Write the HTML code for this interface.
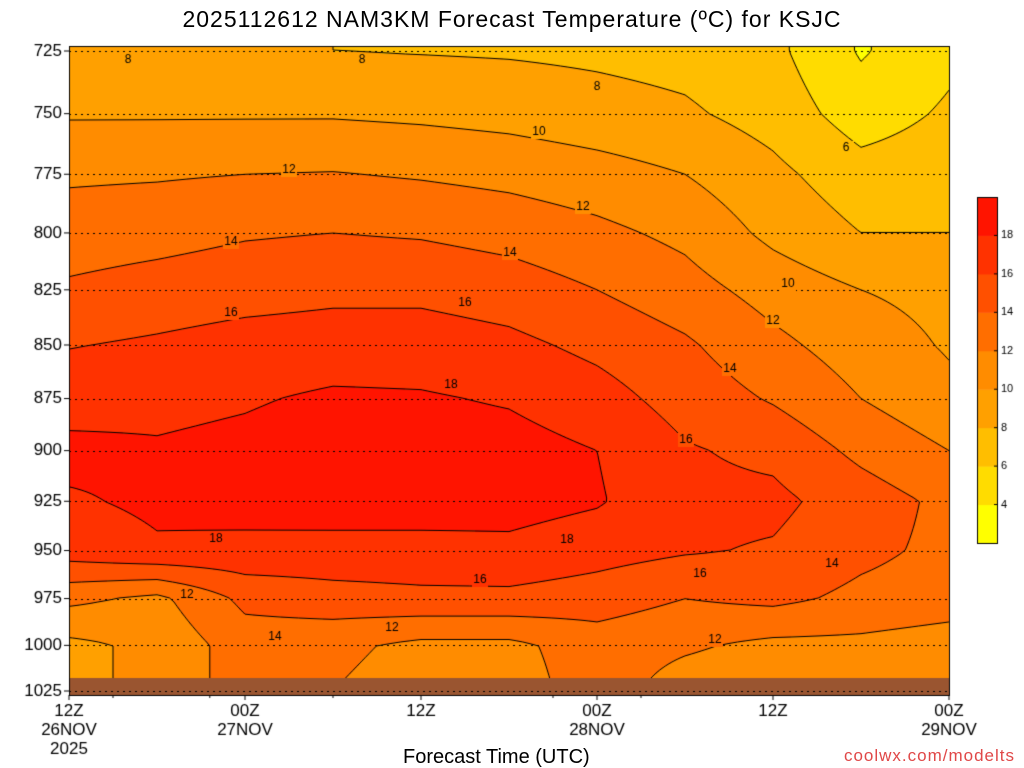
<!DOCTYPE html>
<html><head><meta charset="utf-8"><style>
body{margin:0;background:#fff;font-family:"Liberation Sans","DejaVu Sans",sans-serif}
#wrap{position:relative;width:1024px;height:768px;overflow:hidden}
canvas{position:absolute;left:0;top:0}
.t{position:absolute;white-space:nowrap;color:#000}
</style></head><body>
<div id="wrap">
<canvas id="cv" width="1024" height="768"></canvas>
<div class="t" style="left:0;width:1024px;text-align:center;top:6px;font-size:23px;letter-spacing:1px">2025112612 NAM3KM Forecast Temperature (ºC) for KSJC</div>
<div class="t" style="left:403px;top:746px;font-size:20px">Forecast Time (UTC)</div>
<div class="t" style="right:9px;top:746px;font-size:17px;color:#e04848;letter-spacing:1px">coolwx.com/modelts</div>
</div>
<script>
const levels=[725,750,775,800,825,850,875,900,925,950,975,1000,1025];
const hours=[0,6,12,18,24,30,36,42,48,54,60];
const xTickLabels=[["12Z","26NOV","2025"],["00Z","27NOV"],["12Z"],["00Z","28NOV"],["12Z"],["00Z","29NOV"]];
const xTickHours=[0,12,24,36,48,60];
const cbLabels=[4,6,8,10,12,14,16,18];
const temps=[
[8.2,8.2,8.1,8.0,7.9,7.8,7.6,7.3,6.5,3.8,5.5],
[9.8,9.8,9.8,9.8,9.6,9.3,8.8,8.3,7.2,5.0,6.3],
[11.7,11.8,12.0,12.1,11.8,11.4,10.8,10.0,8.5,6.8,7.2],
[13.0,13.3,13.8,14.0,13.8,13.3,12.5,11.5,9.5,8.0,8.0],
[14.3,14.8,15.2,15.5,15.5,15.0,14.0,12.8,11.2,10.0,9.4],
[15.9,16.3,16.8,17.0,17.0,16.5,15.5,14.3,12.5,11.0,9.8],
[17.2,17.5,17.8,18.3,18.2,17.8,16.8,15.2,13.8,12.0,10.5],
[18.5,18.2,18.5,19.0,19.0,18.8,18.0,16.2,15.5,13.5,12.0],
[17.8,18.3,18.7,19.0,19.0,18.8,18.2,16.5,16.5,15.0,13.5],
[17.0,17.8,17.5,17.3,17.3,17.5,16.8,16.2,15.8,14.5,13.5],
[12.5,11.5,14.5,15.2,15.5,15.5,15.0,14.0,14.5,13.5,13.0],
[9.5,10.5,13.0,12.5,11.5,11.5,13.0,12.3,11.5,11.5,11.0],
[9.5,10.5,13.0,12.0,11.0,11.0,13.0,11.0,10.5,10.5,11.0]];
const binColors=["#ffff00","#ffdc00","#ffbe00","#ffa000","#ff8c00","#ff6e00","#ff5000","#ff3200","#ff1400"];
const X0=69,X1=949,Y0=46,Y1=695;
const xOf=h=>X0+h*(X1-X0)/60;
const yOf=p=>51+(Math.log(p)-Math.log(725))*640/(Math.log(1025)-Math.log(725));
const pOf=y=>Math.exp(Math.log(725)+(y-51)*(Math.log(1025)-Math.log(725))/640);
function tempAt(x,y){
  let h=(x-X0)/(X1-X0)*60;h=Math.max(0,Math.min(60,h));
  let p=Math.max(725,Math.min(1025,pOf(y)));
  let i=Math.min(hours.length-2,Math.floor(h/6)),fi=(h-hours[i])/6;
  let j=0;while(j<levels.length-2&&levels[j+1]<p)j++;
  let fj=(Math.log(p)-Math.log(levels[j]))/(Math.log(levels[j+1])-Math.log(levels[j]));
  fj=Math.max(0,Math.min(1,fj));
  const a=temps[j][i],b=temps[j][i+1],c=temps[j+1][i],d=temps[j+1][i+1];
  return (a*(1-fi)+b*fi)*(1-fj)+(c*(1-fi)+d*fi)*fj;
}
function bin(t){let k=Math.floor((t-2)/2);return Math.max(0,Math.min(8,k));}
const cv=document.getElementById('cv'),g=cv.getContext('2d');
const S=2;
for(let y=Y0;y<Y1;y+=S)for(let x=X0;x<X1;x+=S){g.fillStyle=binColors[bin(tempAt(x+1,y+1))];g.fillRect(x,y,S,S);}
const C=4,nx=Math.ceil((X1-X0)/C),ny=Math.ceil((Y1-Y0)/C);
const G=[];for(let j=0;j<=ny;j++){G.push([]);for(let i=0;i<=nx;i++)G[j].push(tempAt(X0+i*C,Y0+j*C));}
g.strokeStyle="#000";g.lineWidth=1;g.beginPath();
for(let L=4;L<=18;L+=2){
 for(let j=0;j<ny;j++)for(let i=0;i<nx;i++){
  const v=[G[j][i],G[j][i+1],G[j+1][i+1],G[j+1][i]];
  const px=[[0,0],[1,0],[1,1],[0,1]];const pts=[];
  for(let k=0;k<4;k++){const a=v[k],b=v[(k+1)%4];if((a<L)!==(b<L)){const f=(L-a)/(b-a);
    pts.push([X0+(i+px[k][0]+(px[(k+1)%4][0]-px[k][0])*f)*C,Y0+(j+px[k][1]+(px[(k+1)%4][1]-px[k][1])*f)*C]);}}
  for(let k=0;k+1<pts.length;k+=2){g.moveTo(pts[k][0],pts[k][1]);g.lineTo(pts[k+1][0],pts[k+1][1]);}
 }}
g.stroke();
g.fillStyle="#9a5530";g.fillRect(X0,678,X1-X0,Y1-678);
g.setLineDash([2,4]);g.strokeStyle="#000";
levels.forEach(p=>{const y=Math.round(yOf(p))+0.5;g.beginPath();g.moveTo(X0,y);g.lineTo(X1,y);g.stroke();});
g.beginPath();g.moveTo(X0+0.5,Y0);g.lineTo(X0+0.5,Y1);g.stroke();
g.setLineDash([]);g.strokeRect(X0+0.5,Y0+0.5,X1-X0,Y1-Y0);
g.font='17px "Liberation Sans",sans-serif';g.fillStyle="#000";g.textAlign="right";g.textBaseline="middle";
levels.forEach(p=>{const y=yOf(p);g.fillText(p,62,y);g.beginPath();g.moveTo(X0-5,y);g.lineTo(X0,y);g.stroke();});
g.textAlign="center";g.textBaseline="top";
xTickHours.forEach((h,k)=>{const x=xOf(h);g.beginPath();g.moveTo(x,Y1);g.lineTo(x,Y1+5);g.stroke();
 xTickLabels[k].forEach((s,r)=>g.fillText(s,x,703+r*19));});
g.font='12px "Liberation Sans",sans-serif';g.textBaseline="middle";
[[128,60,8],[362,60,8],[597,87,8],[539,132,10],[846,148,6],[289,170,12],[583,207,12],[231,242,14],[510,253,14],[788,284,10],[773,321,12],[231,313,16],[465,303,16],[730,369,14],[451,385,18],[686,440,16],[216,539,18],[567,540,18],[480,580,16],[700,574,16],[832,564,14],[187,595,12],[275,637,14],[392,628,12],[715,640,12]].forEach(([x,y,t])=>{
 g.fillStyle=binColors[bin(tempAt(x,y))];g.fillRect(x-8,y-7,16,14);g.fillStyle="#000";g.fillText(t,x,y);});
const cbx=977,cby=197,cbw=20,cbh=346;
for(let k=0;k<9;k++){g.fillStyle=binColors[k];g.fillRect(cbx,cby+cbh-(k+1)*cbh/9,cbw,cbh/9+0.5);}
g.strokeStyle="#000";g.strokeRect(cbx+0.5,cby+0.5,cbw,cbh);
g.font='11px "Liberation Sans",sans-serif';g.fillStyle="#000";g.textAlign="left";
cbLabels.forEach((v,k)=>{const y=cby+cbh-(k+1)*cbh/9;g.beginPath();g.moveTo(cbx+cbw-3,y);g.lineTo(cbx+cbw,y);g.stroke();g.fillText(v,1001,y);});
</script>
</body></html>
